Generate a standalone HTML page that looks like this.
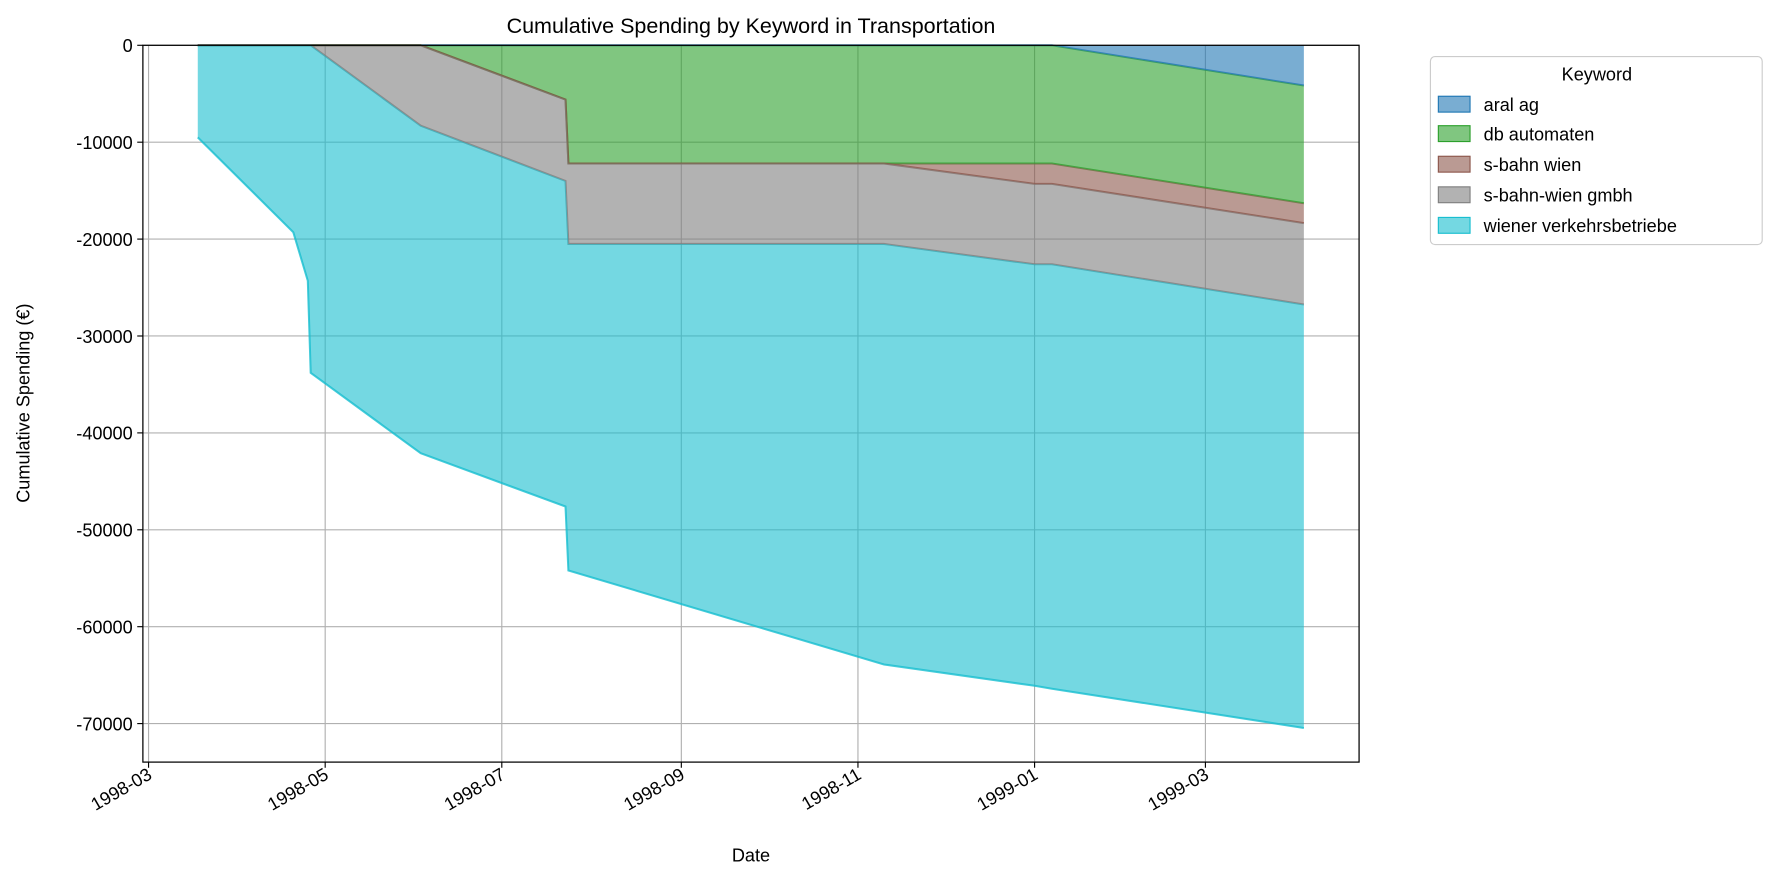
<!DOCTYPE html>
<html><head><meta charset="utf-8"><style>body{margin:0;background:#fff}svg{position:absolute;left:0;top:0}text{font-family:"Liberation Sans","DejaVu Sans",sans-serif;fill:#000}</style></head>
<body>
<svg id="c" width="1776" height="881" viewBox="0 0 1568 778" xmlns="http://www.w3.org/2000/svg"></svg>
<script>
const dates=[17,50,55,56,94,144,145,254,306,312,399]; // days since 1998-03-01
const seriesNames=["aral ag","db automaten","s-bahn wien","s-bahn-wien gmbh","wiener verkehrsbetriebe"];
const aral=[0,0,0,0,0,0,0,0,0,0,-4150];
const db=[0,0,0,0,0,-5600,-12200,-12200,-12200,-12200,-12150];
const sbw=[0,0,0,0,0,0,0,0,-2100,-2100,-2050];
const gmbh=[0,0,0,0,-8300,-8400,-8300,-8300,-8300,-8300,-8400];
const wiener=[-9500,-19300,-24300,-33800,-33800,-33600,-33700,-43400,-43500,-43800,-43700];
const yTicks=[0,-10000,-20000,-30000,-40000,-50000,-60000,-70000];
const xTickDays=[0,61,122,184,245,306,365];
const xTickLabels=["1998-03","1998-05","1998-07","1998-09","1998-11","1999-01","1999-03"];
const colors=["#1f77b4","#2ca02c","#8c564b","#7f7f7f","#17becf"];
const svg=document.getElementById('c');const NS="http://www.w3.org/2000/svg";
const L=126,R=1200,T=40,B=673;
const X=d=>131+d*2.557;
const Y=v=>40-v/10000*85.57;
function mk(tag,attrs,parent){const e=document.createElementNS(NS,tag);for(const k in attrs)e.setAttribute(k,attrs[k]);(parent||svg).appendChild(e);return e;}
xTickDays.forEach(d=>{const g=mk('line',{x1:X(d),x2:X(d),y1:T,y2:B,stroke:'#b0b0b0','stroke-width':1});

});
yTicks.forEach(v=>{const g=mk('line',{x1:L,x2:R,y1:Y(v),y2:Y(v),stroke:'#b0b0b0','stroke-width':1});

});
const all=[aral,db,sbw,gmbh,wiener];let base=dates.map(()=>0);
all.forEach((s,i)=>{const top=base.slice();const bot=base.map((b,j)=>b+s[j]);
let d='M'+dates.map((t,j)=>X(t)+','+Y(top[j])).join(' L');
for(let j=dates.length-1;j>=0;j--)d+=' L'+X(dates[j])+','+Y(bot[j]);d+='Z';
const p=mk('path',{d:d,fill:colors[i],'fill-opacity':0.6,stroke:'none'});


const ln=mk('polyline',{points:dates.map((t,j)=>X(t)+','+Y(bot[j])).join(' '),fill:'none',stroke:colors[i],'stroke-width':1.8,'stroke-opacity':0.8});


base=bot;});
const fr=mk('rect',{x:L,y:T,width:R-L,height:B-T,fill:'none',stroke:'#000','stroke-width':1.1});


yTicks.forEach(v=>{mk('line',{x1:L-5,x2:L,y1:Y(v),y2:Y(v),stroke:'#000'});
const t=mk('text',{x:L-9,y:Y(v)+6,'text-anchor':'end','font-size':16});t.textContent=v;

});
xTickDays.forEach((d,i)=>{mk('line',{x1:X(d),x2:X(d),y1:B,y2:B+5,stroke:'#000'});
const t=mk('text',{x:X(d)+4,y:B+14,'text-anchor':'end','font-size':16,transform:`rotate(-30 ${X(d)+4} ${B+14})`});t.textContent=xTickLabels[i];

});
</script>
<svg width="1776" height="881" viewBox="0 0 1568 778" xmlns="http://www.w3.org/2000/svg">
<text x="663" y="29" text-anchor="middle" font-size="19">Cumulative Spending by Keyword in Transportation</text>
<text x="663" y="761" text-anchor="middle" font-size="16">Date</text>
<text x="26" y="356" text-anchor="middle" font-size="16" transform="rotate(-90 26 356)">Cumulative Spending (€)</text>
<g>
<rect x="1263" y="50" width="293" height="166" rx="4" fill="#fff" stroke="#ccc"/>
<text x="1410" y="71" text-anchor="middle" font-size="16">Keyword</text>
<g><rect x="1270" y="85" width="28" height="14" fill="#1f77b4" fill-opacity="0.6" stroke="#1f77b4"/><text x="1310" y="98" font-size="16">aral ag</text></g>
<g><rect x="1270" y="111" width="28" height="14" fill="#2ca02c" fill-opacity="0.6" stroke="#2ca02c"/><text x="1310" y="124" font-size="16">db automaten</text></g>
<g><rect x="1270" y="138" width="28" height="14" fill="#8c564b" fill-opacity="0.6" stroke="#8c564b"/><text x="1310" y="151" font-size="16">s-bahn wien</text></g>
<g><rect x="1270" y="165" width="28" height="14" fill="#7f7f7f" fill-opacity="0.6" stroke="#7f7f7f"/><text x="1310" y="178" font-size="16">s-bahn-wien gmbh</text></g>
<g><rect x="1270" y="192" width="28" height="14" fill="#17becf" fill-opacity="0.6" stroke="#17becf"/><text x="1310" y="205" font-size="16">wiener verkehrsbetriebe</text></g>
</g>
</svg>
</body></html>
